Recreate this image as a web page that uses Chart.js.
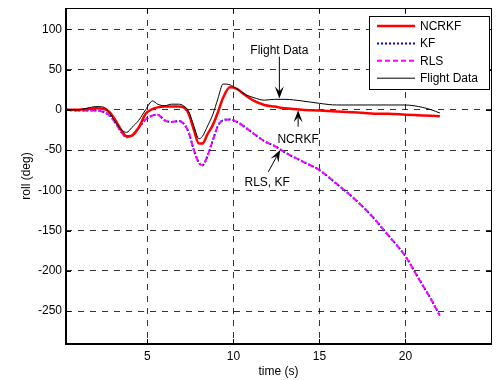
<!DOCTYPE html>
<html>
<head>
<meta charset="utf-8">
<title>roll estimate</title>
<script src="https://cdn.jsdelivr.net/npm/chart.js@4.4.1/dist/chart.umd.min.js"></script>
<style>
  html, body { margin: 0; padding: 0; background: #fff; }
  canvas { display: block; }
</style>
</head>
<body>
<canvas id="rollChart" width="504" height="380"></canvas>
<script>
// time axis (s)
var time = [0.3, 1, 1.5, 2, 2.5, 2.8, 3.2, 3.5, 3.8, 4.1, 4.5, 4.9, 5.3, 5.6, 6.0, 6.4, 6.8, 7.1, 7.4, 7.7,
            8.0, 8.2, 8.5, 8.8, 9.1, 9.4, 9.8, 10.2, 10.7, 11.2, 11.8, 12.4, 13, 14, 15, 16, 17, 18, 19, 20,
            20.5, 21, 21.5, 22];

// roll (deg) per estimator
var ncrkfRoll = [0, 0, 1, 2, 1, -3, -15, -26, -33, -32, -22, -5, 1, 3, 4, 4, 4, 3, -5, -25,
                 -42, -42, -30, -19, -3, 15, 28, 26, 18, 11, 6, 4, 2, 0, -1, -2, -3, -4.5, -5, -6,
                 -6.5, -7, -7.5, -8];
var kfRoll = [0, -1, -1, -1, -3, -7, -18, -28, -34, -32, -22, -12, -7, -6, -13, -15, -14, -17, -28, -50,
              -66, -69, -57, -38, -20, -13, -12, -15, -22, -30, -39, -45, -53, -64, -75, -92, -110, -131, -156, -182,
              -200, -218, -236, -256];
var rlsRoll = [0, -1, -1, -1, -3, -7, -18, -28, -34, -32, -22, -12, -7, -6, -13, -15, -14, -17, -28, -50,
               -66, -69, -57, -38, -20, -13, -12, -15, -22, -30, -39, -45, -53, -64, -75, -92, -110, -131, -156, -182,
               -200, -218, -236, -256];
var flightRoll = [0, 0, 2, 4, 3, -4, -17, -25, -28, -22, -13, 0, 11, 7, 5, 7, 7, 5, -2, -20,
                  -36, -33, -20, -6, 14, 32, 31, 26, 19, 15, 12, 13, 13, 11, 8, 6, 6, 6, 6, 6,
                  5, 3, 0, -4];

var xTickValues = [5, 10, 15, 20];
var yTickValues = [100, 50, 0, -50, -100, -150, -200, -250];

var labelFont = { family: "'Liberation Sans', Arial, sans-serif", size: 12 };
var gridColor = 'rgba(0,0,0,0.8)';

function toPoints(values) {
    return values.map(function (v, i) { return { x: time[i], y: v }; });
}

// MATLAB 스타일 프레임, 안쪽 눈금, 주석 화살표, 범례
var framePlugin = {
    id: 'framePlugin',
    afterDraw: function (chart) {
        var ctx = chart.ctx;
        var a = chart.chartArea;
        var xs = chart.scales.x, ys = chart.scales.y;

        ctx.save();
        ctx.strokeStyle = '#000';
        ctx.lineWidth = 1;

        // inner tick marks on all four sides
        ctx.beginPath();
        xTickValues.forEach(function (v) {
            var px = Math.round(xs.getPixelForValue(v)) + 0.5;
            ctx.moveTo(px, a.bottom); ctx.lineTo(px, a.bottom - 5);
            ctx.moveTo(px, a.top); ctx.lineTo(px, a.top + 5);
        });
        yTickValues.forEach(function (v) {
            var py = Math.round(ys.getPixelForValue(v)) + 0.5;
            ctx.moveTo(a.left, py); ctx.lineTo(a.left + 5, py);
            ctx.moveTo(a.right, py); ctx.lineTo(a.right - 5, py);
        });
        ctx.stroke();

        // frame
        ctx.strokeRect(Math.round(a.left) + 0.5, Math.round(a.top) + 0.5,
                       Math.round(a.right - a.left), Math.round(a.bottom - a.top));
        ctx.lineWidth = 2;
        ctx.beginPath();
        ctx.moveTo(a.left, a.top); ctx.lineTo(a.left, a.bottom); ctx.lineTo(a.right, a.bottom);
        ctx.stroke();

        // annotations (data coordinates)
        var notes = [
            { text: 'Flight Data', tx: 12.67, ty: 73.4, from: [12.67, 66], to: [12.67, 14.2] },
            { text: 'NCRKF', tx: 13.76, ty: -37.7, from: [13.76, -21], to: [13.76, -0.4] },
            { text: 'RLS, KF', tx: 11.96, ty: -90.8, from: [12.03, -77], to: [12.72, -50] }
        ];
        ctx.font = '12px ' + labelFont.family;
        ctx.fillStyle = '#000';
        ctx.textAlign = 'center';
        ctx.textBaseline = 'middle';
        notes.forEach(function (n) {
            ctx.fillText(n.text, xs.getPixelForValue(n.tx), ys.getPixelForValue(n.ty));
            drawArrow(ctx, xs.getPixelForValue(n.from[0]), ys.getPixelForValue(n.from[1]),
                      xs.getPixelForValue(n.to[0]), ys.getPixelForValue(n.to[1]));
        });

        // legend box
        var bx = 369.5, by = 16.5, bw = 120, bh = 73;
        ctx.fillStyle = '#fff';
        ctx.fillRect(bx, by, bw, bh);
        ctx.lineWidth = 1;
        ctx.strokeStyle = '#000';
        ctx.strokeRect(bx, by, bw, bh);
        ctx.textAlign = 'left';
        chart.data.datasets.forEach(function (ds, i) {
            var y = 26 + i * 17.4;
            ctx.save();
            ctx.strokeStyle = ds.borderColor;
            ctx.lineWidth = ds.borderWidth;
            ctx.setLineDash(ds.borderDash || []);
            ctx.beginPath();
            ctx.moveTo(377, y); ctx.lineTo(415, y);
            ctx.stroke();
            ctx.restore();
            ctx.fillStyle = '#000';
            ctx.fillText(ds.label, 420, y + 0.5);
        });
        ctx.restore();
    }
};

function drawArrow(ctx, x1, y1, x2, y2) {
    var ang = Math.atan2(y2 - y1, x2 - x1);
    var c = Math.cos(ang), s = Math.sin(ang);
    var len = 12, half = 4.5, notch = 0.6;
    ctx.save();
    ctx.strokeStyle = '#000';
    ctx.fillStyle = '#000';
    ctx.lineWidth = 1;
    ctx.beginPath();
    ctx.moveTo(x1, y1);
    ctx.lineTo(x2 - c * len * notch, y2 - s * len * notch);
    ctx.stroke();
    ctx.beginPath();
    ctx.moveTo(x2, y2);
    ctx.lineTo(x2 - len * c + half * s, y2 - len * s - half * c);
    ctx.lineTo(x2 - notch * len * c, y2 - notch * len * s);
    ctx.lineTo(x2 - len * c - half * s, y2 - len * s + half * c);
    ctx.closePath();
    ctx.fill();
    ctx.restore();
}

var rollChart = new Chart(document.getElementById('rollChart'), {
    type: 'line',
    data: {
        datasets: [{
            label: 'NCRKF',
            data: toPoints(ncrkfRoll),
            borderColor: '#ff0000',
            borderWidth: 2.5,
            order: 1
        }, {
            label: 'KF',
            data: toPoints(kfRoll),
            borderColor: '#0000ff',
            borderWidth: 2,
            borderDash: [2, 2],
            order: 3
        }, {
            label: 'RLS',
            data: toPoints(rlsRoll),
            borderColor: '#ff00ff',
            borderWidth: 2,
            borderDash: [5, 3],
            order: 2
        }, {
            label: 'Flight Data',
            data: toPoints(flightRoll),
            borderColor: '#000000',
            borderWidth: 1,
            order: 0
        }]
    },
    options: {
        responsive: false,
        animation: false,
        events: [],
        parsing: false,
        layout: { padding: { top: 8, right: 13, left: 0, bottom: 0 } },
        elements: {
            point: { radius: 0 },
            line: { cubicInterpolationMode: 'monotone', fill: false }
        },
        plugins: {
            legend: { display: false },
            tooltip: { enabled: false }
        },
        scales: {
            x: {
                type: 'linear',
                min: 0.27,
                max: 24.97,
                afterBuildTicks: function (scale) {
                    scale.ticks = xTickValues.map(function (v) { return { value: v }; });
                },
                afterFit: function (scale) {
                    scale.height = 36;
                    scale.paddingLeft = 0;
                    scale.paddingRight = 0;
                },
                ticks: { font: labelFont, color: '#000', padding: 5, maxRotation: 0 },
                grid: { color: gridColor, drawTicks: false },
                border: { display: false, dash: [6, 6] },
                title: { display: true, text: 'time (s)', font: labelFont, color: '#000',
                         padding: { top: 0, bottom: 1 } }
            },
            y: {
                min: -291,
                max: 126.5,
                afterBuildTicks: function (scale) {
                    scale.ticks = yTickValues.map(function (v) { return { value: v }; });
                },
                afterFit: function (scale) {
                    scale.width = 66;
                    scale.paddingTop = 0;
                    scale.paddingBottom = 0;
                },
                ticks: { font: labelFont, color: '#000', padding: 4 },
                grid: { color: gridColor, drawTicks: false },
                border: { display: false, dash: [6, 6] },
                title: { display: true, text: 'roll (deg)', font: labelFont, color: '#000',
                         padding: { top: 19, bottom: 0 } }
            }
        }
    },
    plugins: [framePlugin]
});
</script>
</body>
</html>
